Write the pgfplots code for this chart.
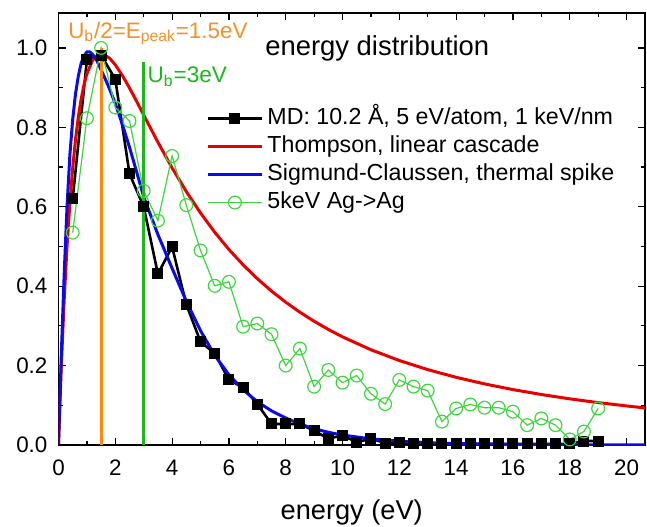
\documentclass[border=0pt]{standalone}
\usepackage{fontspec}
\setmainfont{Liberation Sans}
\usepackage{pgfplots}
\pgfplotsset{compat=1.18}
\usepackage{pgfplotstable}

\definecolor{thomred}{RGB}{232,0,0}
\definecolor{sigblue}{RGB}{10,10,235}
\definecolor{aggreen}{RGB}{60,215,60}
\definecolor{ubgreen}{RGB}{25,185,25}
\definecolor{peakorange}{RGB}{255,135,10}
\definecolor{peaktext}{RGB}{245,145,40}

% MD simulation: 10.2 A track, 5 eV/atom, 1 keV/nm
\pgfplotstableread{
E     f
0.5   0.620
1.0   0.970
1.5   0.982
2.0   0.921
2.5   0.683
3.0   0.600
3.5   0.431
4.0   0.499
4.5   0.354
5.0   0.260
5.5   0.231
6.0   0.164
6.5   0.145
7.0   0.103
7.5   0.053
8.0   0.053
8.5   0.053
9.0   0.036
9.5   0.016
10.0  0.024
10.5  0.007
11.0  0.016
11.5  0.005
12.0  0.007
12.5  0.004
13.0  0.004
13.5  0.003
14.0  0.003
14.5  0.003
15.0  0.003
15.5  0.003
16.0  0.003
16.5  0.003
17.0  0.003
17.5  0.003
18.0  0.003
18.5  0.010
19.0  0.010
}\mdtable

% Thompson distribution (linear cascade), U_b = 3 eV
\pgfplotstableread{
E     f
0     0
0.05  0.1055
0.1   0.2009
0.2   0.3652
0.3   0.4995
0.4   0.6090
0.5   0.6978
0.6   0.7695
0.7   0.8270
0.8   0.8724
0.9   0.9079
1.0   0.9350
1.2   0.9692
1.4   0.9835
1.5   0.9850
1.6   0.9836
1.8   0.9740
2.0   0.9574
2.25  0.9305
2.5   0.8992
2.75  0.8656
3.0   0.8311
3.5   0.7626
4.0   0.6978
4.5   0.6383
5.0   0.5844
5.5   0.5359
6.0   0.4925
6.5   0.4537
7.0   0.4189
7.5   0.3877
8.0   0.3597
8.5   0.3344
9.0   0.3117
9.5   0.2911
10.0  0.2724
11.0  0.2399
12.0  0.2128
13.0  0.1899
14.0  0.1705
15.0  0.1539
16.0  0.1396
17.0  0.1272
18.0  0.1163
19.0  0.1068
20.0  0.0984
20.65 0.0934
}\thomtable

% Sigmund-Claussen thermal spike
\pgfplotstableread{
E     f
0     0
0.1   0.230
0.2   0.430
0.3   0.600
0.4   0.730
0.5   0.820
0.6   0.885
0.7   0.930
0.8   0.962
0.9   0.980
1.0   0.990
1.1   0.990
1.2   0.984
1.35  0.968
1.5   0.945
1.75  0.905
2.0   0.860
2.25  0.807
2.5   0.750
2.75  0.688
3.0   0.625
3.5   0.530
4.0   0.445
4.5   0.362
5.0   0.288
5.5   0.226
6.0   0.177
6.5   0.139
7.0   0.109
7.5   0.086
8.0   0.068
8.5   0.053
9.0   0.041
9.5   0.032
10.0  0.025
11.0  0.0155
12.0  0.0096
13.0  0.0060
14.0  0.0037
15.0  0.0023
16.0  0.0014
17.0  0.0009
18.0  0.0005
19.0  0.0003
20.65 0.0001
}\sigtable

% 5 keV Ag -> Ag collision cascade
\pgfplotstableread{
E     f
0.5   0.535
1.0   0.823
1.5   1.000
2.0   0.850
2.5   0.816
3.0   0.640
3.5   0.565
4.0   0.728
4.5   0.604
5.0   0.490
5.5   0.401
6.0   0.411
6.5   0.298
7.0   0.306
7.5   0.279
8.0   0.200
8.5   0.243
9.0   0.147
9.5   0.189
10.0  0.157
10.5  0.175
11.0  0.129
11.5  0.103
12.0  0.164
12.5  0.147
13.0  0.137
13.5  0.059
14.0  0.092
14.5  0.102
15.0  0.094
15.5  0.094
16.0  0.084
16.5  0.050
17.0  0.067
17.5  0.050
18.0  0.014
18.5  0.034
19.0  0.092
}\agtable

\begin{document}
\begin{tikzpicture}
\begin{axis}[
  name=ax,
  scale only axis,
  width=293.25pt, height=216pt,
  xmin=0, xmax=20.65, ymin=0, ymax=1.088,
  xtick={0,2,4,6,8,10,12,14,16,18,20},
  ytick={0,0.2,0.4,0.6,0.8,1.0},
  minor x tick num=1, minor y tick num=1,
  tick align=inside, tick pos=both,
  major tick length=3.5pt, minor tick length=2pt,
  every tick/.style={black, line width=0.6pt},
  axis line style={line width=0.75pt},
  /pgf/number format/assume math mode=true,
  ticklabel style={font=\fontsize{11.2}{13}\selectfont},
  x tick label style={yshift=-4pt},
  y tick label style={xshift=-2pt,
    /pgf/number format/fixed,
    /pgf/number format/fixed zerofill,
    /pgf/number format/precision=1},
  xlabel={energy (eV)},
  xlabel style={font=\fontsize{13.6}{16}\selectfont,
    at={(axis description cs:0.5,0)}, anchor=base, yshift=-37pt},
  legend style={draw=none, fill=none, at={(0.2515,0.789)}, anchor=north west,
    font=\fontsize{11.6}{14}\selectfont, inner sep=0pt, column sep=1pt,
    nodes={inner sep=1pt, text height=9pt, text depth=3pt}},
  legend cell align=left,
  legend image code/.code={%
    \draw[mark repeat=2,mark phase=2,#1]
      plot coordinates {(0cm,0cm) (0.475cm,0cm) (0.95cm,0cm)};},
]
\addplot[black, line width=1.3pt, mark=square*, mark size=2.5pt,
  mark options={solid, line width=0.5pt}] table[x=E, y=f] {\mdtable};
\addlegendentry{MD: 10.2 Å, 5 eV/atom, 1 keV/nm}

\addplot[thomred, line width=1.5pt] table[x=E, y=f] {\thomtable};
\addlegendentry{Thompson, linear cascade}

\addplot[sigblue, line width=1.5pt] table[x=E, y=f] {\sigtable};
\addlegendentry{Sigmund-Claussen, thermal spike}

\addplot[aggreen, line width=0.6pt, mark=o, mark size=3.2pt,
  mark options={solid, line width=0.6pt, fill=white}] table[x=E, y=f] {\agtable};
\addlegendentry{5keV Ag->Ag}

% binding energy and peak position markers
\addplot[peakorange, line width=1.4pt, forget plot] coordinates {(1.5,0) (1.5,1.0)};
\addplot[ubgreen, line width=1.4pt, forget plot] coordinates {(3,0) (3,0.965)};

\node[anchor=base west, inner sep=0pt, text=peaktext,
  font=\fontsize{11.2}{13}\selectfont] at (axis cs:0.33,1.025)
  {U\textsubscript{b}/2=E\textsubscript{peak}=1.5eV};
\node[anchor=base west, inner sep=0pt, text=ubgreen,
  font=\fontsize{11.3}{13}\selectfont] at (axis cs:3.12,0.912)
  {U\textsubscript{b}=3eV};
\node[anchor=base west, inner sep=0pt,
  font=\fontsize{13.7}{16}\selectfont] at (axis cs:7.27,0.981)
  {energy distribution};
\end{axis}
\pgfresetboundingbox
\path[use as bounding box] ([xshift=-29.25pt,yshift=-40.5pt]ax.south west)
  rectangle ([xshift=1pt,yshift=6.5pt]ax.north east);
\end{tikzpicture}
\end{document}
